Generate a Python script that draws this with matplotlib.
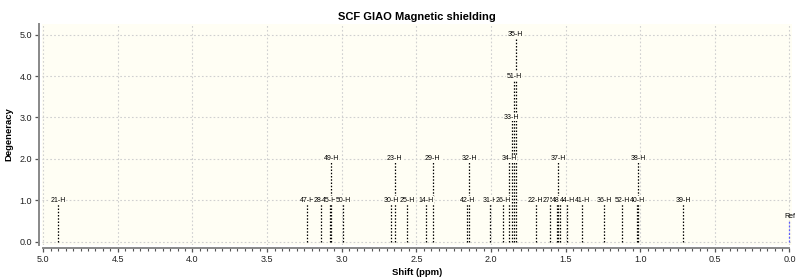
import matplotlib
matplotlib.use('Agg')
import matplotlib.pyplot as plt
from matplotlib.ticker import MultipleLocator, FormatStrFormatter

plt.rcParams['font.family'] = ['Liberation Sans', 'DejaVu Sans']

# peak labels, shifts (ppm) and degeneracy
labels = ['21-H', '47-H', '28-H', '45-H', '49-H', '50-H', '30-H', '23-H',
          '25-H', '14-H', '29-H', '42-H', '32-H', '31-H', '26-H', '34-H',
          '33-H', '51-H', '35-H', '22-H', '27-H', '53-H', '37-H', '48-H',
          '44-H', '41-H', '36-H', '52-H', '40-H', '38-H', '39-H']
shifts = [4.90, 3.23, 3.14, 3.08, 3.07, 2.99, 2.67, 2.645,
          2.56, 2.435, 2.39, 2.16, 2.145, 2.005, 1.92, 1.88,
          1.86, 1.845, 1.835, 1.70, 1.605, 1.555, 1.548, 1.54,
          1.49, 1.39, 1.24, 1.12, 1.02, 1.013, 0.71]
degeneracy = [1, 1, 1, 1, 2, 1, 1, 2,
              1, 1, 2, 1, 2, 1, 1, 2,
              3, 4, 5, 1, 1, 1, 2, 1,
              1, 1, 1, 1, 1, 2, 1]

ref_shift = 0.0
ref_height = 0.5

bg = '#fffef4'

fig = plt.figure(figsize=(8, 2.78), dpi=100)
ax = fig.add_axes([0.052, 0.119, 0.938, 0.795])
ax.set_facecolor(bg)

# grid behind everything
ax.set_axisbelow(True)
ax.grid(True, color='#d0d0d0', linestyle=(0, (1.5, 2)), linewidth=0.8)

# stick spectrum
for lab, s, d in zip(labels, shifts, degeneracy):
    ax.plot([s, s], [0, d], color='black', linestyle=(0, (1.2, 1.4)),
            linewidth=0.9, zorder=2)
    ax.text(s, d, lab, fontsize=5, ha='center', va='center', color='black',
            zorder=3, bbox=dict(facecolor=bg, edgecolor='none', pad=0.2))

ax.plot([ref_shift, ref_shift], [0, ref_height], color='#5a5aff',
        linestyle=(0, (1.5, 1.5)), linewidth=0.9, zorder=2)
ax.text(ref_shift, ref_height + 0.02, 'Ref', fontsize=5, ha='center',
        va='bottom', color='black', zorder=3)

ax.set_xlim(5.011, -0.017)
ax.set_ylim(-0.08, 5.26)

ax.xaxis.set_major_locator(MultipleLocator(0.5))
ax.xaxis.set_minor_locator(MultipleLocator(0.05))
ax.yaxis.set_major_locator(MultipleLocator(1.0))
ax.xaxis.set_major_formatter(FormatStrFormatter('%.1f'))
ax.yaxis.set_major_formatter(FormatStrFormatter('%.1f'))

for side in ['top', 'right']:
    ax.spines[side].set_visible(False)
ax.spines['left'].set_position(('outward', 2))
ax.spines['bottom'].set_position(('outward', 2))
for side in ['left', 'bottom']:
    ax.spines[side].set_color('#888888')
    ax.spines[side].set_linewidth(1.4)
ax.spines['bottom'].set_bounds(5.0, 0.0)

ax.tick_params(axis='both', which='major', direction='out', length=3,
               width=0.9, color='#555555', labelsize=6.5, labelcolor='#222222',
               pad=2)
ax.tick_params(axis='x', which='minor', direction='out', length=2,
               width=0.8, color='#555555')

ax.set_title('SCF GIAO Magnetic shielding', fontsize=8, fontweight='bold',
             pad=3)
ax.set_xlabel('Shift (ppm)', fontsize=6.8, fontweight='bold', labelpad=3)
ax.set_ylabel('Degeneracy', fontsize=6.8, fontweight='bold', labelpad=4)

fig.savefig('out.png', dpi=100)
